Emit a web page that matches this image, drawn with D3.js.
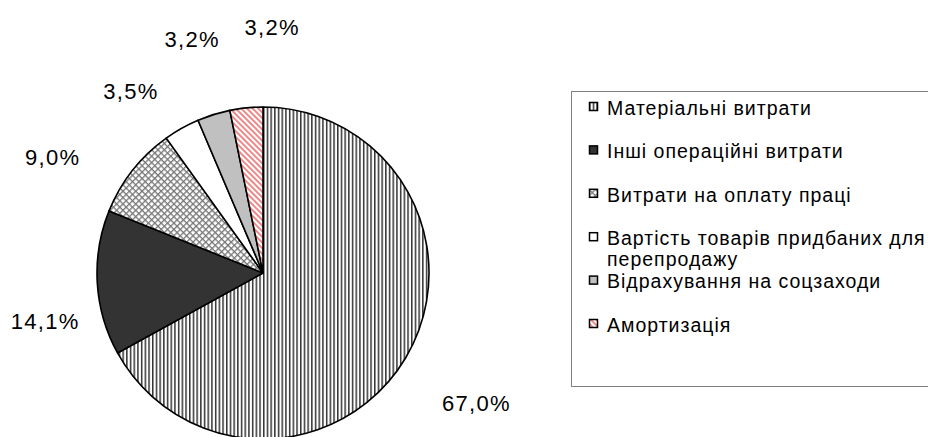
<!DOCTYPE html>
<html>
<head>
<meta charset="utf-8">
<script src="https://cdn.jsdelivr.net/npm/d3@7"></script>
<style>
    body { margin: 0; background: #fff; }
    text { font-family: "Liberation Sans", Arial, sans-serif; fill: #000; }
</style>
</head>
<body>
<svg width="928" height="437"></svg>
<script>

// data
const categories = ['Матеріальні витрати', 'Інші операційні витрати', 'Витрати на оплату праці',
                    'Вартість товарів придбаних для\nперепродажу', 'Відрахування на соцзаходи', 'Амортизація'];
const values = [67.0, 14.1, 9.0, 3.5, 3.2, 3.2];
const labels = ['67,0%', '14,1%', '9,0%', '3,5%', '3,2%', '3,2%'];

const fills = ['url(#vstripe)', '#333333', 'url(#cross)', '#ffffff', '#c0c0c0', 'url(#redline)'];

// label placement: [radius, angle nudge in degrees] like excel moved them
const labelPlace = [[250, 0.8], [223, -9], [240, -9.4], [225, -6.6], [244, 0.4], [246, 7.9]];

const svg = d3.select('svg');
const defs = svg.append('defs');

let p = defs.append('pattern').attr('id', 'vstripe').attr('patternUnits', 'userSpaceOnUse')
    .attr('width', 3.7).attr('height', 10);
p.append('rect').attr('width', 3.7).attr('height', 10).attr('fill', '#fff');
p.append('rect').attr('width', 1.5).attr('height', 10).attr('fill', '#333');

p = defs.append('pattern').attr('id', 'cross').attr('patternUnits', 'userSpaceOnUse')
    .attr('width', 4.5).attr('height', 4.5).attr('patternTransform', 'rotate(45)');
p.append('rect').attr('width', 4.5).attr('height', 4.5).attr('fill', '#fff');
p.append('rect').attr('width', 1.3).attr('height', 4.5).attr('fill', '#777');
p.append('rect').attr('width', 4.5).attr('height', 1.3).attr('fill', '#777');

p = defs.append('pattern').attr('id', 'redline').attr('patternUnits', 'userSpaceOnUse')
    .attr('width', 4).attr('height', 10).attr('patternTransform', 'rotate(-45)');
p.append('rect').attr('width', 4).attr('height', 10).attr('fill', '#fff');
p.append('rect').attr('width', 2).attr('height', 10).attr('fill', '#ec8a8a');

const cx = 263, cy = 273, r = 166;

const pie = d3.pie().sort(null).value(d => d);
const arcs = pie(values);
const arc = d3.arc().innerRadius(0).outerRadius(r);

const g = svg.append('g').attr('transform', `translate(${cx},${cy})`);

g.selectAll('path')
    .data(arcs)
    .enter()
    .append('path')
    .attr('d', arc)
    .attr('fill', (d, i) => fills[i])
    .attr('stroke', '#000')
    .attr('stroke-width', 1.6)
    .attr('stroke-linejoin', 'round');

g.selectAll('text.lbl')
    .data(arcs)
    .enter()
    .append('text')
    .attr('class', 'lbl')
    .attr('x', (d, i) => {
        const a = (d.startAngle + d.endAngle) / 2 + labelPlace[i][1] * Math.PI / 180;
        return Math.sin(a) * labelPlace[i][0];
    })
    .attr('y', (d, i) => {
        const a = (d.startAngle + d.endAngle) / 2 + labelPlace[i][1] * Math.PI / 180;
        return -Math.cos(a) * labelPlace[i][0];
    })
    .attr('dy', '0.35em')
    .attr('text-anchor', 'middle')
    .style('font-size', '22px')
    .style('letter-spacing', '1.3px')
    .text((d, i) => labels[i]);

// legend
const legend = svg.append('g');
legend.append('rect')
    .attr('x', 571.5).attr('y', 91.5)
    .attr('width', 360).attr('height', 295)
    .attr('fill', '#fff')
    .attr('stroke', '#808080')
    .attr('stroke-width', 1);

const ly = d3.scaleLinear().domain([0, categories.length - 1]).range([108, 325]);

const item = legend.selectAll('g.item')
    .data(categories)
    .enter()
    .append('g')
    .attr('class', 'item')
    .attr('transform', (d, i) => `translate(589,${ly(i)})`);

item.append('rect')
    .attr('x', 0.5).attr('y', -5.5)
    .attr('width', 8).attr('height', 8)
    .attr('fill', (d, i) => fills[i])
    .attr('stroke', '#000')
    .attr('stroke-width', 1.5);

item.append('text')
    .attr('x', 18)
    .attr('y', 0)
    .style('font-size', '19.5px')
    .style('letter-spacing', '1px')
    .each(function(d) {
        const lines = d.split('\n');
        d3.select(this).selectAll('tspan')
            .data(lines)
            .enter()
            .append('tspan')
            .attr('x', 18)
            .attr('dy', (l, j) => j === 0 ? '0.35em' : '1.1em')
            .text(l => l);
    });

</script>
</body>
</html>
